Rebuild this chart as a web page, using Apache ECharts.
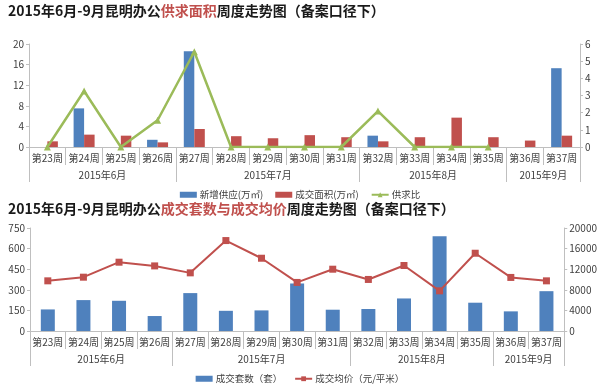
<!DOCTYPE html>
<html><head><meta charset="utf-8">
<script src="https://cdn.jsdelivr.net/npm/echarts@6/dist/echarts.min.js"></script>
<style>html,body{margin:0;padding:0;background:#fff}#c{width:600px;height:389px}</style>
</head><body><div id="c"></div>
<script>
const weeks = ['第23周','第24周','第25周','第26周','第27周','第28周','第29周','第30周','第31周','第32周','第33周','第34周','第35周','第36周','第37周'];
const months = ['2015年6月','2015年7月','2015年8月','2015年9月'];
const monthSpans = [4,5,4,2];
const newSupply = [0,7.5,0,1.4,18.6,0,0,0,0,2.2,0,0,0,0,15.3];
const dealArea = [1.1,2.4,2.2,0.9,3.5,2.1,1.7,2.3,1.9,1.1,1.9,5.7,1.9,1.25,2.2];
const ratio = [0,3.26,0,1.56,5.55,0,0,0,0,2.09,0,0,0,null,null];
const dealCount = [157,225,220,109,276,147,150,346,155,160,237,690,206,143,290];
const avgPrice = [9740,10450,13360,12640,11290,17560,14130,9430,12000,10010,12720,7800,15100,10400,9740];

const bounds = [0]; monthSpans.forEach(s => bounds.push(bounds[bounds.length-1]+s));
const centers = monthSpans.map((s,i) => bounds[i] + s/2);

const FONT = '"Noto Sans CJK SC", sans-serif';
const GRAY = '#bfbfbf';
const TXT = '#404040';
const BLUE = '#4F81BD', RED = '#C0504D', GREEN = '#9BBB59';

function weekAxis(g){
  return {type:'category', gridIndex:g, data:weeks, boundaryGap:true,
    axisLine:{show:true, lineStyle:{color:GRAY}},
    axisTick:{show:true, interval:0, length:18, lineStyle:{color:GRAY}},
    axisLabel:{interval:0, fontSize:10, color:TXT, fontFamily:FONT, margin:6}};
}
function monthTickAxis(g){
  return {type:'category', gridIndex:g, data:weeks, boundaryGap:true, position:'bottom',
    axisLine:{show:false},
    axisTick:{show:true, length:35, lineStyle:{color:GRAY}, interval:(i)=>bounds.indexOf(i)>=0},
    axisLabel:{show:false}};
}
function monthLabelAxis(g){
  return {type:'value', gridIndex:g, min:0, max:weeks.length, position:'bottom', offset:18,
    axisLine:{show:false}, splitLine:{show:false}, axisTick:{show:false},
    axisLabel:{customValues:centers, fontSize:10, color:TXT, fontFamily:FONT, margin:5,
      formatter:(v)=>{const i=centers.indexOf(v); return i>=0?months[i]:'';}}};
}
function yAxis(g, max, interval, pos){
  return {type:'value', gridIndex:g, min:0, max:max, interval:interval, position:pos,
    splitLine:{show:false},
    axisLine:{show:true, lineStyle:{color:GRAY}},
    axisTick:{show:true, length:3, lineStyle:{color:GRAY}},
    axisLabel:{fontSize:10, color:TXT, fontFamily:FONT, margin:5, formatter:(v)=>String(v)}};
}

const titleRich = {
  a:{fontSize:14, fontWeight:'bold', color:'#1a1a1a', fontFamily:FONT},
  r:{fontSize:14, fontWeight:'bold', color:RED, fontFamily:FONT}
};
const legendText = {fontSize:9.5, color:TXT, fontFamily:FONT, padding:[0,0,0,-2]};

const option = {
  animation:false,
  title:[
    {left:3, top:-1, text:'{a|2015年6月-9月昆明办公}{r|供求面积}{a|周度走势图（备案口径下）}', textStyle:{rich:titleRich}},
    {left:3, top:197, text:'{a|2015年6月-9月昆明办公}{r|成交套数与成交均价}{a|周度走势图（备案口径下）}', textStyle:{rich:titleRich}}
  ],
  legend:[
    {top:185, left:'center', itemWidth:17, itemHeight:6, itemGap:12, textStyle:legendText,
      data:[{name:'新增供应(万㎡)', icon:'rect'},{name:'成交面积(万㎡)', icon:'rect'},{name:'供求比'}]},
    {top:369, left:'center', itemWidth:17, itemHeight:6, itemGap:12, textStyle:legendText,
      data:[{name:'成交套数（套）', icon:'rect'},{name:'成交均价（元/平米）'}]}
  ],
  grid:[
    {left:29, right:20, top:44, bottom:242},
    {left:30, right:34, top:228, bottom:58}
  ],
  xAxis:[weekAxis(0), monthTickAxis(0), monthLabelAxis(0), weekAxis(1), monthTickAxis(1), monthLabelAxis(1)],
  yAxis:[yAxis(0,20,4,'left'), yAxis(0,6,1,'right'), yAxis(1,750,150,'left'), yAxis(1,20000,4000,'right')],
  series:[
    {name:'新增供应(万㎡)', type:'bar', xAxisIndex:0, yAxisIndex:0, data:newSupply, barWidth:10.5, barGap:'0%', itemStyle:{color:BLUE}},
    {name:'成交面积(万㎡)', type:'bar', xAxisIndex:0, yAxisIndex:0, data:dealArea, barWidth:10.5, barGap:'0%', itemStyle:{color:RED}},
    {name:'供求比', type:'line', xAxisIndex:0, yAxisIndex:1, data:ratio, symbol:'triangle', symbolSize:7,
      lineStyle:{color:GREEN, width:2.5}, itemStyle:{color:GREEN}},
    {name:'成交套数（套）', type:'bar', xAxisIndex:3, yAxisIndex:2, data:dealCount, barWidth:14, itemStyle:{color:BLUE}},
    {name:'成交均价（元/平米）', type:'line', xAxisIndex:3, yAxisIndex:3, data:avgPrice, symbol:'rect', symbolSize:7,
      lineStyle:{color:RED, width:2}, itemStyle:{color:RED}}
  ]
};
echarts.init(document.getElementById('c')).setOption(option);
</script></body></html>
